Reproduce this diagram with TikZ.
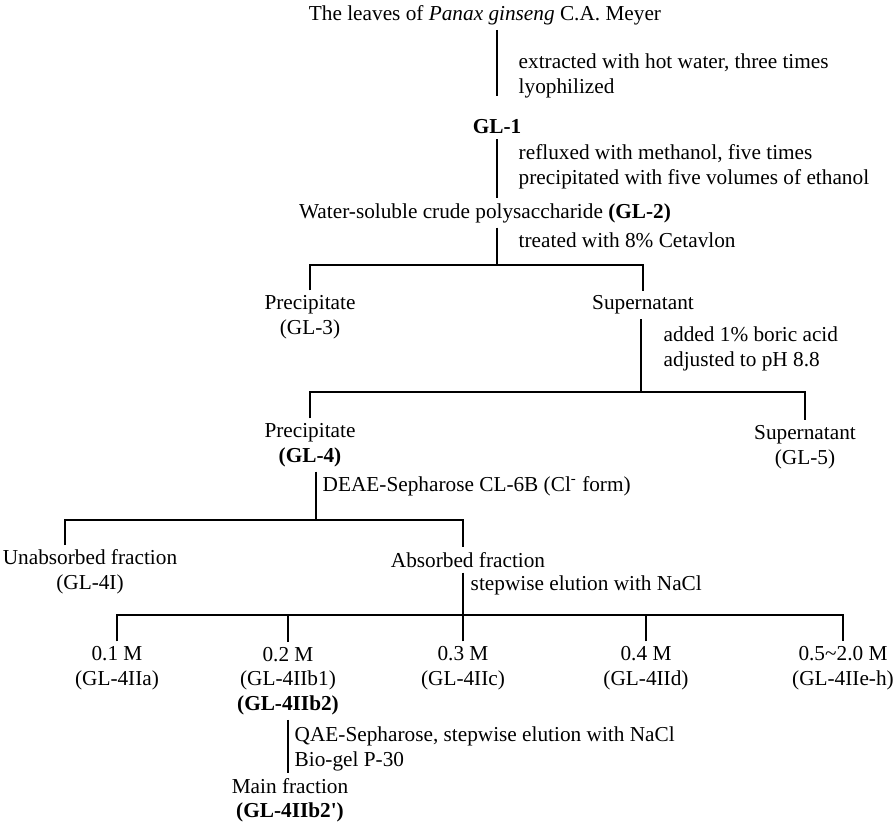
\documentclass[tikz,border=0pt]{standalone}
\usepackage{fontspec}
\setmainfont{Liberation Serif}
\usepackage{tikz}

\begin{document}
\begin{tikzpicture}[x=0.47pt,y=-0.47pt,line width=0.7pt,
  txt/.style={align=center,inner sep=2pt,font=\fontsize{10}{11.5}\selectfont},
  note/.style={align=left,anchor=west,inner sep=0pt,font=\fontsize{10}{11.5}\selectfont}]
\useasboundingbox (0,0) rectangle (896,827);
\node[txt] (top) at (485,15) {The leaves of \textit{Panax ginseng} C.A. Meyer};
\node[note] (n1) at (518,76) {extracted with hot water, three times\\lyophilized};
\node[txt] (gl1) at (497,127) {\textbf{GL-1}};
\node[note] (n2) at (518,167) {refluxed with methanol, five times\\precipitated with five volumes of ethanol};
\node[txt] (gl2) at (485,213) {Water-soluble crude polysaccharide \textbf{(GL-2)}};
\node[note] (n3) at (518,240) {treated with 8\% Cetavlon};
\node[txt] (p3) at (310,317) {Precipitate\\(GL-3)};
\node[txt] (s3) at (643,305) {Supernatant};
\node[note] (n4) at (663,349) {added 1\% boric acid\\adjusted to pH 8.8};
\node[txt] (p4) at (310,445) {Precipitate\\\textbf{(GL-4)}};
\node[txt] (s4) at (805,447) {Supernatant\\(GL-5)};
\node[note] (n5) at (322,486) {DEAE-Sepharose CL-6B (Cl\textsuperscript{-} form)};
\node[txt] (u4) at (90,572) {Unabsorbed fraction\\(GL-4I)};
\node[txt] (a4) at (468,560) {Absorbed fraction};
\node[note] (n6) at (470,585) {stepwise elution with NaCl};
\node[txt] (m1) at (117,668) {0.1 M\\(GL-4IIa)};
\node[txt] (m2) at (288,681) {0.2 M\\(GL-4IIb1)\\\textbf{(GL-4IIb2)}};
\node[txt] (m3) at (463,668) {0.3 M\\(GL-4IIc)};
\node[txt] (m4) at (646,668) {0.4 M\\(GL-4IId)};
\node[txt] (m5) at (843,668) {0.5\textasciitilde2.0 M\\(GL-4IIe-h)};
\node[note] (n7) at (294,749) {QAE-Sepharose, stepwise elution with NaCl\\Bio-gel P-30};
\node[txt] (main) at (290,800) {Main fraction\\\textbf{(GL-4IIb2\textquotesingle)}};
\coordinate (b1) at (497,265);
\coordinate (b2) at (641,392);
\coordinate (b3) at (316,520);
\coordinate (t4) at (65,520);
\coordinate (b4) at (463,615);
\coordinate (t7) at (288,760);
\draw[shorten >=9pt] (top.south -| gl1) -- (gl1);
\draw (gl1) -- (gl1 |- gl2.north);
\draw (gl2.south -| gl1) -- (b1);
\draw (p3.north) |- (b1) -| (s3.north);
\draw (s3.south -| b2) -- (b2);
\draw (p4.north) |- (b2) -| (s4.north);
\draw (p4.south -| b3) -- (b3);
\draw (u4.north -| t4) |- (b3) -| (a4.north -| b4);
\draw (a4.south -| b4) -- (b4);
\draw (m1.north) |- (b4) -| (m5.north);
\foreach \m in {m2,m3,m4}
  \draw (\m.north) -- (\m.north |- b4);
\draw (m2.south -| t7) -- (main.north -| t7);
\end{tikzpicture}
\end{document}
